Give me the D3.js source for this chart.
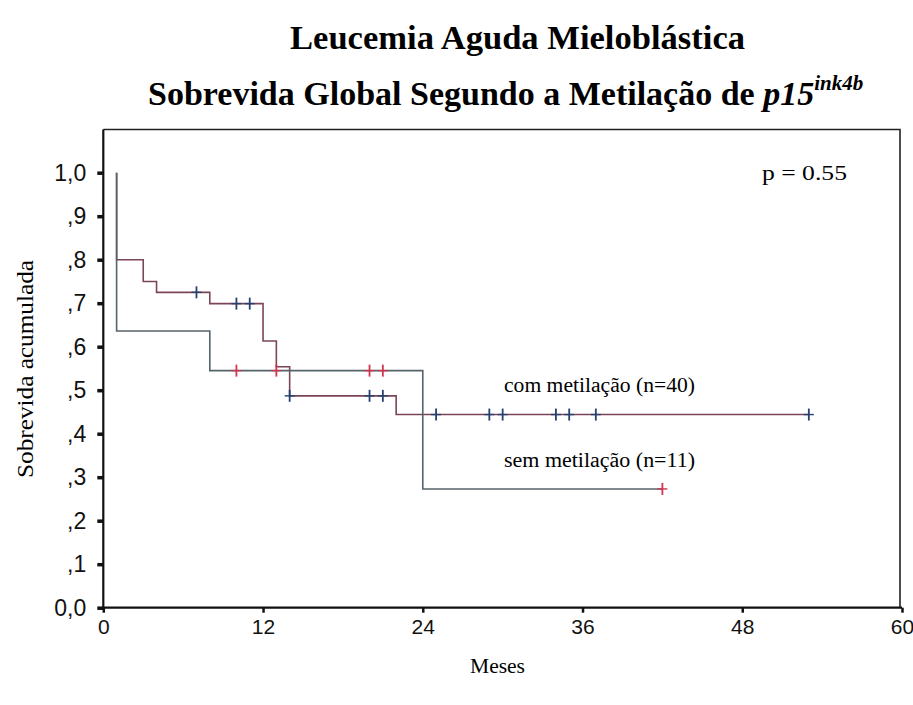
<!DOCTYPE html>
<html>
<head>
<meta charset="utf-8">
<script src="https://cdn.jsdelivr.net/npm/d3@7"></script>
<style>
  html, body { margin: 0; padding: 0; background: #fff; }
  svg { display: block; }
</style>
</head>
<body>
<svg id="chart" width="913" height="705"></svg>
<script>
// ---- data ----
// Kaplan-Meier step points: [month, cumulative survival]
const comTimes    = [1, 1, 3, 4, 8, 12, 13, 14, 22, 53];
const comSurv     = [1.0, 0.8, 0.75, 0.725, 0.699, 0.613, 0.554, 0.487, 0.444, 0.444];
const comCensored = [7, 10, 11, 14, 20, 21, 25, 29, 30, 34, 35, 37, 53];

const semTimes    = [1, 1, 8, 24, 42];
const semSurv     = [1.0, 0.636, 0.545, 0.273, 0.273];
const semCensored = [10, 13, 20, 21, 42];

const xTicks = [0, 12, 24, 36, 48, 60];
const yTicks = [0, 0.1, 0.2, 0.3, 0.4, 0.5, 0.6, 0.7, 0.8, 0.9, 1.0];
const yTickLabels = ["0,0", ",1", ",2", ",3", ",4", ",5", ",6", ",7", ",8", ",9", "1,0"];

const seriesNames = ["com metilação (n=40)", "sem metilação (n=11)"];

// ---- drawing ----
const svg = d3.select("#chart");
const x = d3.scaleLinear().domain([0, 60]).range([103.3, 902]);
const y = d3.scaleLinear().domain([0, 1]).range([607.7, 172.7]);

const serif = "'Liberation Serif', 'Times New Roman', serif";
const sans = "'Liberation Sans', Arial, sans-serif";

// titles
svg.append("text")
  .attr("x", 290).attr("y", 49)
  .attr("font-family", serif).attr("font-weight", "bold").attr("font-size", 33)
  .attr("textLength", 455).attr("lengthAdjust", "spacingAndGlyphs")
  .text("Leucemia Aguda Mieloblástica");

const t2 = svg.append("text")
  .attr("x", 148).attr("y", 105)
  .attr("font-family", serif).attr("font-weight", "bold").attr("font-size", 34);
t2.append("tspan").text("Sobrevida Global Segundo a Metilação de ");
t2.append("tspan").attr("font-style", "italic").text("p15");
t2.append("tspan").attr("font-style", "italic").attr("font-size", 21).attr("dy", -15).text("ink4b");

// frame (top & right)
svg.append("path")
  .attr("d", `M${x(0)},129.5 H${x(60) - 2} V${y(0)}`)
  .attr("fill", "none").attr("stroke", "#222").attr("stroke-width", 1.6);

// y axis
const yAxis = d3.axisLeft(y)
  .tickValues(yTicks)
  .tickSize(6)
  .tickPadding(11)
  .tickFormat((d, i) => yTickLabels[i]);
const gy = svg.append("g").attr("transform", `translate(${x(0)},0)`).call(yAxis);
gy.select(".domain").attr("d", `M0,129.5 V${y(0) + 2}`).attr("stroke", "#111").attr("stroke-width", 2.2);
gy.selectAll(".tick line").attr("stroke", "#111").attr("stroke-width", 3.5);
gy.selectAll(".tick text")
  .attr("font-family", sans).attr("font-size", 23).attr("fill", "#111");

// x axis
const xAxis = d3.axisBottom(x)
  .tickValues(xTicks)
  .tickSize(5)
  .tickPadding(6)
  .tickFormat(d3.format("d"));
const gx = svg.append("g").attr("transform", `translate(0,${y(0)})`).call(xAxis);
gx.select(".domain").attr("d", `M${x(0) - 1},0 H${x(60)}`).attr("stroke", "#111").attr("stroke-width", 2.2);
gx.selectAll(".tick line").attr("stroke", "#111").attr("stroke-width", 2.5);
gx.selectAll(".tick text")
  .attr("font-family", sans).attr("font-size", 21).attr("fill", "#111");

// axis titles
svg.append("text")
  .attr("transform", `translate(33,369) rotate(-90)`)
  .attr("text-anchor", "middle")
  .attr("font-family", serif).attr("font-size", 24)
  .attr("textLength", 218).attr("lengthAdjust", "spacingAndGlyphs")
  .text("Sobrevida acumulada");
svg.append("text")
  .attr("x", 470).attr("y", 673)
  .attr("font-family", serif).attr("font-size", 22)
  .attr("textLength", 55).attr("lengthAdjust", "spacingAndGlyphs")
  .text("Meses");

// step lines
function stepPath(times, surv) {
  const pts = times.map((t, i) => [x(t), y(surv[i])]);
  const line = d3.line().curve(d3.curveStepAfter);
  return line(pts);
}
function survAt(times, surv, t) {
  let v = surv[0];
  for (let i = 0; i < times.length; i++) if (times[i] <= t) v = surv[i];
  return v;
}

const series = [
  { times: comTimes, surv: comSurv, cens: comCensored, line: "#7b4458", mark: "#27406f" },
  { times: semTimes, surv: semSurv, cens: semCensored, line: "#55636a", mark: "#d0344f" }
];

series.forEach(s => {
  svg.append("path")
    .attr("d", stepPath(s.times, s.surv))
    .attr("fill", "none").attr("stroke", s.line).attr("stroke-width", 1.6);
});
series.forEach(s => {
  svg.append("g").selectAll("g")
    .data(s.cens)
    .join("g")
    .each(function(t) {
      const cx = x(t), cy = y(survAt(s.times, s.surv, t));
      const g = d3.select(this);
      g.append("line").attr("x1", cx).attr("x2", cx).attr("y1", cy - 6).attr("y2", cy + 6)
        .attr("stroke", s.mark).attr("stroke-width", 1.8);
      g.append("line").attr("x1", cx - 5).attr("x2", cx + 5).attr("y1", cy).attr("y2", cy)
        .attr("stroke", s.mark).attr("stroke-width", 1.4);
    });
});

// series labels
svg.append("text")
  .attr("x", 504).attr("y", 392)
  .attr("font-family", serif).attr("font-size", 20)
  .attr("textLength", 191).attr("lengthAdjust", "spacingAndGlyphs")
  .text(seriesNames[0]);
svg.append("text")
  .attr("x", 504).attr("y", 467)
  .attr("font-family", serif).attr("font-size", 20)
  .attr("textLength", 191).attr("lengthAdjust", "spacingAndGlyphs")
  .text(seriesNames[1]);

// p value
svg.append("text")
  .attr("x", 762).attr("y", 180)
  .attr("font-family", serif).attr("font-size", 20)
  .attr("textLength", 85).attr("lengthAdjust", "spacingAndGlyphs")
  .text("p = 0.55");
</script>
</body>
</html>
